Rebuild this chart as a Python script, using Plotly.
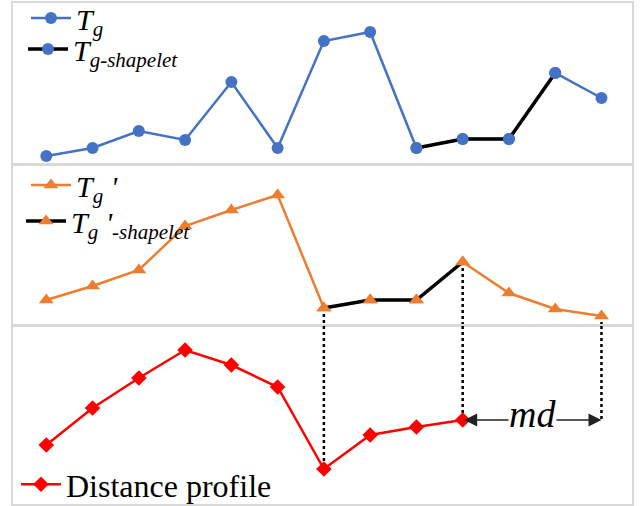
import plotly.graph_objects as go

W, H = 644, 506

# ---------------- data ----------------
idx_full = list(range(1, 14))
tg = [8, 16, 33, 24, 82, 16, 123, 132, 16, 25, 25, 91, 66]
tg_shp_idx = [9, 10, 11, 12]
tg_shp = [16, 25, 25, 91]

tgp = [25, 39, 55, 99, 115, 130, 17, 25, 25, 63, 32, 16, 9]
tgp_shp_idx = [7, 8, 9, 10]
tgp_shp = [17, 25, 25, 63]

idx_dp = list(range(1, 11))
dp = [59, 96, 126, 154, 139, 117, 35, 69, 77, 84]

# dotted links: x index, value in panel 2, value in panel 3
link_x = [7, 10, 13]
link_p2 = [17, 63, 9]
link_p3 = [35, 84, 84]

md_from, md_to, md_level = 10, 13, 84

# ---------------- layout helpers ----------------
def py(px):
    return 1 - px / H

def pxx(px):
    return px / W

panels = [(3, 164), (165, 325), (326, 504)]
xdom = [pxx(13), pxx(632)]
xr = [0.28, 13.66]
yranges = [[0, 161], [0, 160], [0, 178]]

BLUE = "#4472C4"
ORANGE = "#ED7D31"
RED = "#FF0000"
GRID = "#D9D9D9"
FONT = "Liberation Serif"

fig = go.Figure()

fig.add_trace(go.Scatter(x=idx_full, y=tg, mode="lines+markers", name="<i>T<sub>g</sub></i>",
                         line=dict(color=BLUE, width=2.5), marker=dict(color=BLUE, size=12, symbol="circle"),
                         xaxis="x", yaxis="y", legend="legend"))
fig.add_trace(go.Scatter(x=tg_shp_idx, y=tg_shp, mode="lines+markers", name="<i>T<sub>g-shapelet</sub></i>",
                         line=dict(color="black", width=3.5), marker=dict(color=BLUE, size=12, symbol="circle"),
                         xaxis="x", yaxis="y", legend="legend2"))

fig.add_trace(go.Scatter(x=idx_full, y=tgp, mode="lines+markers", name="<i>T<sub>g</sub> '</i>",
                         line=dict(color=ORANGE, width=2.5), marker=dict(color=ORANGE, size=13, symbol="triangle-up"),
                         xaxis="x2", yaxis="y2", legend="legend3"))
fig.add_trace(go.Scatter(x=tgp_shp_idx, y=tgp_shp, mode="lines+markers", name="<i>T<sub>g</sub> '<sub>-shapelet</sub></i>",
                         line=dict(color="black", width=3.5), marker=dict(color=ORANGE, size=13, symbol="triangle-up"),
                         xaxis="x2", yaxis="y2", legend="legend4"))

fig.add_trace(go.Scatter(x=idx_dp, y=dp, mode="lines+markers", name="Distance profile",
                         line=dict(color=RED, width=2.5), marker=dict(color=RED, size=12, symbol="diamond"),
                         xaxis="x3", yaxis="y3", legend="legend5"))

# dotted connectors (two segments each: panel 2 down to its floor, panel 3 up to its ceiling)
for xv, v2, v3 in zip(link_x, link_p2, link_p3):
    fig.add_shape(type="line", xref="x2", yref="y2", x0=xv, x1=xv, y0=v2, y1=yranges[1][0],
                  line=dict(color="black", width=2.5, dash="dot"), layer="below")
    fig.add_shape(type="line", xref="x3", yref="y3", x0=xv, x1=xv, y0=yranges[2][1], y1=v3,
                  line=dict(color="black", width=2.5, dash="dot"), layer="below")

# md double arrow
fig.add_annotation(x=md_to, y=md_level, ax=md_from, ay=md_level, xref="x3", yref="y3",
                   axref="x3", ayref="y3", text="", showarrow=True, arrowhead=2, startarrowhead=2,
                   arrowside="end+start", arrowsize=2.0, startarrowsize=2.0, arrowwidth=1.3, arrowcolor="#222222")
fig.add_annotation(x=(md_from + md_to) / 2, y=md_level, xref="x3", yref="y3", text="<i>md</i>",
                   showarrow=False, font=dict(family=FONT, size=38, color="black"), bgcolor="white",
                   borderpad=0, yshift=6)

axcommon = dict(showgrid=False, zeroline=False, showticklabels=False, ticks="",
                showline=True, mirror=True, linecolor=GRID, linewidth=1.5, fixedrange=True)

for i, (top, bot) in enumerate(panels):
    s = "" if i == 0 else str(i + 1)
    fig.update_layout(**{
        "xaxis" + s: dict(domain=xdom, range=xr, anchor="y" + s, **axcommon),
        "yaxis" + s: dict(domain=[py(bot), py(top)], range=yranges[i], anchor="x" + s, **axcommon),
    })

def leg(xpx, ypx, size):
    return dict(x=pxx(xpx), y=py(ypx), bgcolor="rgba(0,0,0,0)",
                font=dict(family=FONT, size=size, color="black"),
                xanchor="left", yanchor="top", itemsizing="trace", tracegroupgap=0, itemwidth=40)

fig.update_layout(
    legend=leg(26, -8, 30),
    legend2=leg(23, 23, 30),
    legend3=leg(26, 159, 30),
    legend4=leg(21, 195, 30),
    legend5=leg(16, 457, 32),
    width=W, height=H, autosize=False,
    margin=dict(l=0, r=0, t=0, b=0, pad=0, autoexpand=False),
    paper_bgcolor="white", plot_bgcolor="white", showlegend=True, hovermode=False,
)

fig.write_html("out.html",
               config={"displayModeBar": False, "responsive": False},
               post_script="document.body.style.margin='0';document.body.style.overflow='hidden';")
